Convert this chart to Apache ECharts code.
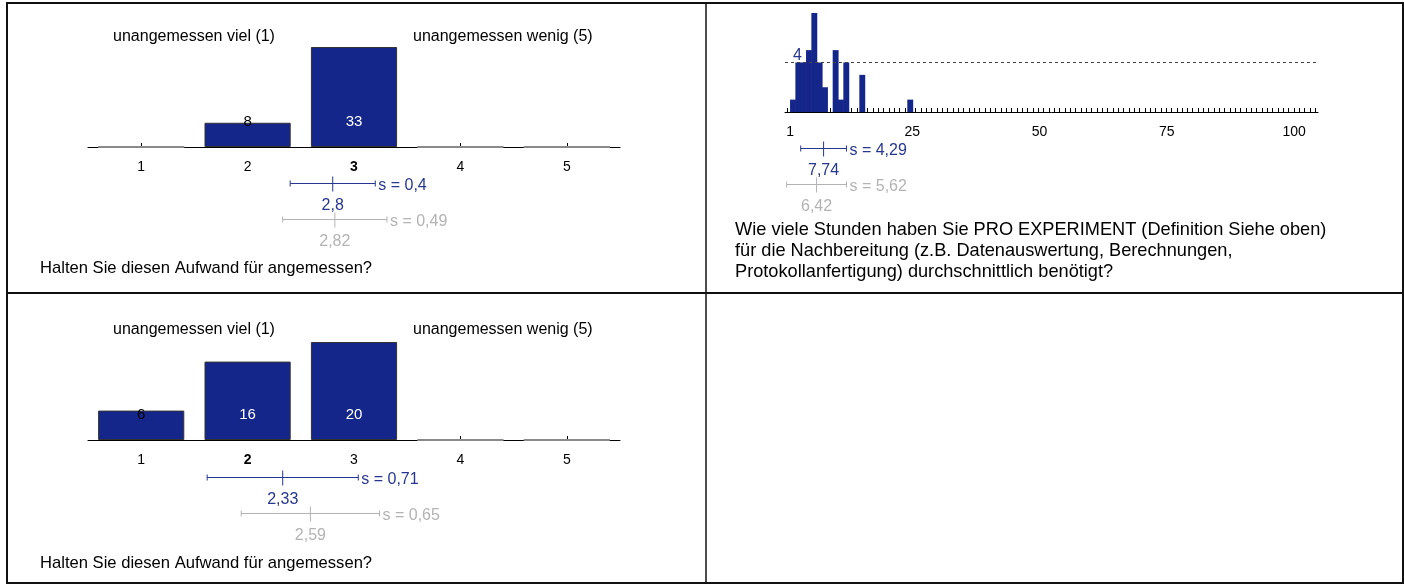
<!DOCTYPE html>
<html><head><meta charset="utf-8">
<script src="https://cdn.jsdelivr.net/npm/echarts@6/dist/echarts.min.js"></script>
<style>html,body{margin:0;padding:0;background:#fff}#c{width:1404px;height:584px}</style>
</head><body><div id="c"></div>
<script>
// ---- data ----
const scaleCats = ['1', '2', '3', '4', '5'];
const q1Counts = [0, 8, 33, 0, 0];
const q1Stats = [[2.8, 0.4], [2.82, 0.49]];      // [mean, sd]: this course, reference
const q2Counts = [6, 16, 20, 0, 0];
const q2Stats = [[2.33, 0.71], [2.59, 0.65]];
const hoursValues = [2, 3, 4, 5, 6, 7, 8, 10, 11, 12, 15, 24];
const hoursCounts = [1, 4, 4, 5, 8, 4, 2, 5, 1, 4, 3, 1];
const hoursTickValues = [1, 25, 50, 75, 100];
const hoursStats = [[7.74, 4.29], [6.42, 5.62]];
const hoursRefLine = 4;
const hoursMin = 1, hoursMax = 100;
const leftLabel = 'unangemessen viel (1)';
const rightLabel = 'unangemessen wenig (5)';
const qAufwand = 'Halten Sie diesen Aufwand für angemessen?';
const qHours = ['Wie viele Stunden haben Sie PRO EXPERIMENT (Definition Siehe oben)',
  'für die Nachbereitung (z.B. Datenauswertung, Berechnungen,',
  'Protokollanfertigung) durchschnittlich benötigt?'];

// ---- styles ----
const FONT = 'Liberation Sans, Arial, sans-serif';
const NAVY = '#15268a';
const BLUE = '#27378f';
const GREY = '#b3b3b3';

const hoursCats = [];
for (let v = hoursMin; v <= hoursMax; v++) hoursCats.push(String(v));

const fmt = v => String(v).replace('.', ',');

function medianIndex(counts) {
  const n = counts.reduce((a, b) => a + b, 0);
  let cum = 0;
  for (let i = 0; i < counts.length; i++) { cum += counts[i]; if (cum >= n / 2) return i; }
  return 0;
}

function barData(counts) {
  const mx = Math.max(...counts);
  return counts.map(v => ({
    value: v,
    itemStyle: v === 0 ? { borderColor: '#8a8a8a', borderWidth: 2 } : {},
    label: { show: v > 0, color: v / mx < 0.4 ? '#000' : '#fff' }
  }));
}

function sdRender(params, api) {
  const mean = api.value(0), sd = api.value(1), row = api.value(2);
  const color = params.dataIndex === 0 ? BLUE : GREY;
  const c = api.coord([mean, row]);
  const l = api.coord([mean - sd, row]);
  const r = api.coord([mean + sd, row]);
  const y = Math.round(c[1]) + 0.5;
  const st = { stroke: color, lineWidth: 1 };
  return {
    type: 'group', children: [
      { type: 'line', shape: { x1: l[0], y1: y, x2: r[0], y2: y }, style: st },
      { type: 'line', shape: { x1: l[0], y1: y - 3, x2: l[0], y2: y + 3 }, style: st },
      { type: 'line', shape: { x1: r[0], y1: y - 3, x2: r[0], y2: y + 3 }, style: st },
      { type: 'line', shape: { x1: c[0], y1: y - 7, x2: c[0], y2: y + 8 }, style: st },
      { type: 'text', style: { text: 's = ' + fmt(sd), x: r[0] + 3, y: y + 2, fill: color,
        fontSize: 16, fontFamily: FONT, verticalAlign: 'middle', align: 'left' } },
      { type: 'text', style: { text: fmt(mean), x: c[0], y: y + 22, fill: color,
        fontSize: 16, fontFamily: FONT, verticalAlign: 'middle', align: 'center' } }
    ]
  };
}

function sdData(stats) { return stats.map((s, i) => [s[0], s[1], 1 - i]); }

const L = 88, W = 532;
const grids = [
  { left: L, width: W, top: 47, height: 100 },      // 0 q1 bars
  { left: L, width: W, top: 183, height: 36 },      // 1 q1 sd
  { left: L, width: W, top: 342, height: 98 },      // 2 q2 bars
  { left: L, width: W, top: 477, height: 36 },      // 3 q2 sd
  { left: 785, width: 533, top: 13, height: 99 },   // 4 hours hist
  { left: 785, width: 533, top: 148, height: 36 },  // 5 hours sd
  { left: 785, width: 533, top: 13, height: 99 }    // 6 hours tick labels
];

function catAxis(gi, counts) {
  const mi = medianIndex(counts);
  return {
    type: 'category', gridIndex: gi, data: scaleCats,
    axisLine: { lineStyle: { color: '#000', width: 1 } },
    axisTick: { show: true, inside: true, length: 4, alignWithLabel: true, lineStyle: { color: '#000' } },
    axisLabel: { color: '#000', fontSize: 14, fontFamily: FONT, margin: 13,
      formatter: (v, i) => i === mi ? '{b|' + v + '}' : v,
      rich: { b: { fontWeight: 'bold', fontSize: 14, fontFamily: FONT, color: '#000' } } }
  };
}
function hiddenVal(gi, min, max) {
  return { type: 'value', gridIndex: gi, min, max, show: false };
}

const barLabel = { show: true, position: ['50%', '100%'], offset: [0, -25], align: 'center',
  verticalAlign: 'middle', fontSize: 15, fontFamily: FONT };

const txt = (text, x, y, align, size) => ({ type: 'text', style: { text, x, y, align: align || 'left',
  verticalAlign: 'middle', fontSize: size || 16, fontFamily: FONT, fill: '#000' } });

const option = {
  animation: false,
  grid: grids,
  xAxis: [
    catAxis(0, q1Counts),
    hiddenVal(1, 0.5, 5.5),
    catAxis(2, q2Counts),
    hiddenVal(3, 0.5, 5.5),
    {
      type: 'category', gridIndex: 4, data: hoursCats,
      axisLine: { lineStyle: { color: '#000', width: 1 } },
      axisTick: { show: true, inside: true, length: 4, interval: 0, alignWithLabel: true, lineStyle: { color: '#000' } },
      axisLabel: { show: false }
    },
    hiddenVal(5, hoursMin - 0.5, hoursMax + 0.5),
    {
      type: 'value', gridIndex: 6, min: 0, max: 104.7,
      axisLine: { show: false }, axisTick: { show: false }, splitLine: { show: false },
      axisLabel: { show: true, customValues: hoursTickValues, formatter: v => String(v),
        color: '#000', fontSize: 14, fontFamily: FONT, margin: 13 }
    }
  ],
  yAxis: [
    { type: 'value', gridIndex: 0, min: 0, max: Math.max(...q1Counts), show: false },
    hiddenVal(1, 0, 1),
    { type: 'value', gridIndex: 2, min: 0, max: Math.max(...q2Counts), show: false },
    hiddenVal(3, 0, 1),
    { type: 'value', gridIndex: 4, min: 0, max: Math.max(...hoursCounts), show: false },
    hiddenVal(5, 0, 1),
    hiddenVal(6, 0, 1)
  ],
  series: [
    { type: 'bar', xAxisIndex: 0, yAxisIndex: 0, data: barData(q1Counts), barWidth: '81%',
      itemStyle: { color: NAVY, borderColor: '#333', borderWidth: 1 }, label: barLabel },
    { type: 'custom', xAxisIndex: 1, yAxisIndex: 1, data: sdData(q1Stats), renderItem: sdRender },
    { type: 'bar', xAxisIndex: 2, yAxisIndex: 2, data: barData(q2Counts), barWidth: '81%',
      itemStyle: { color: NAVY, borderColor: '#333', borderWidth: 1 }, label: barLabel },
    { type: 'custom', xAxisIndex: 3, yAxisIndex: 3, data: sdData(q2Stats), renderItem: sdRender },
    { type: 'bar', xAxisIndex: 4, yAxisIndex: 4, barWidth: 5.9, barGap: '0%',
      data: hoursValues.map((v, i) => [String(v), hoursCounts[i]]),
      itemStyle: { color: NAVY, borderWidth: 0 },
      markLine: { silent: true, symbol: 'none', animation: false,
        lineStyle: { type: [3, 3], color: '#444', width: 1 },
        label: { show: true, position: 'insideStartTop', formatter: String(hoursRefLine),
          color: BLUE, fontSize: 16, fontFamily: FONT, distance: [8, -1] },
        data: [{ yAxis: hoursRefLine }] } },
    { type: 'custom', xAxisIndex: 5, yAxisIndex: 5, data: sdData(hoursStats), renderItem: sdRender }
  ],
  graphic: [
    { type: 'rect', shape: { x: 7, y: 3, width: 1396, height: 580 }, style: { fill: 'none', stroke: '#111', lineWidth: 2 } },
    { type: 'line', shape: { x1: 706, y1: 3, x2: 706, y2: 583 }, style: { stroke: '#111', lineWidth: 1.5 } },
    { type: 'line', shape: { x1: 7, y1: 293, x2: 1403, y2: 293 }, style: { stroke: '#111', lineWidth: 2 } },
    txt(leftLabel, 194, 37, 'center'),
    txt(rightLabel, 413, 37),
    txt(qAufwand, 40, 268, 'left', 16.6),
    txt(leftLabel, 194, 330, 'center'),
    txt(rightLabel, 413, 330),
    txt(qAufwand, 40, 563, 'left', 16.6),
    txt(qHours[0], 735, 230, 'left', 18.2),
    txt(qHours[1], 735, 251, 'left', 18.2),
    txt(qHours[2], 735, 272, 'left', 18.2)
  ]
};

const chart = echarts.init(document.getElementById('c'), null, { renderer: 'canvas' });
chart.setOption(option);
</script>
</body></html>
